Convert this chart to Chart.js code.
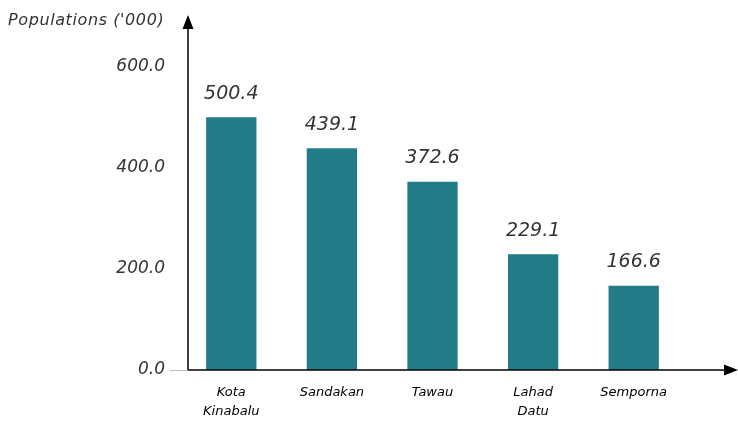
<!DOCTYPE html>
<html>
<head>
<meta charset="utf-8">
<script src="https://cdn.jsdelivr.net/npm/chart.js@4"></script>
<style>
  body { margin: 0; background: #fff; }
  #wrap { width: 738px; height: 422px; }
</style>
</head>
<body>
<div id="wrap"><canvas id="pop" width="738" height="422"></canvas></div>
<script>
const towns = [["Kota", "Kinabalu"], "Sandakan", "Tawau", ["Lahad", "Datu"], "Semporna"]
const population = [500.4, 439.1, 372.6, 229.1, 166.6]
const yTicks = [0, 200, 400, 600]
const axisTitle = "Populations ('000)"

const barColor = "#227c88"
const textColor = "#333333"
const fontFamily = "'DejaVu Sans', sans-serif"

// axis arrows, zero tick, value labels and the y title
const decorations = {
  id: "decorations",
  afterDatasetsDraw(chart) {
    const ctx = chart.ctx
    const area = chart.chartArea
    const x0 = area.left + 7
    const y0 = area.bottom

    ctx.save()
    // small grey tick at zero
    ctx.strokeStyle = "#bbbbbb"
    ctx.lineWidth = 1
    ctx.beginPath()
    ctx.moveTo(x0 - 18, y0 + 0.5)
    ctx.lineTo(x0, y0 + 0.5)
    ctx.stroke()

    ctx.strokeStyle = "#000"
    ctx.fillStyle = "#000"
    ctx.lineWidth = 1.5
    // y axis
    ctx.beginPath()
    ctx.moveTo(x0, y0)
    ctx.lineTo(x0, 26)
    ctx.stroke()
    ctx.beginPath()
    ctx.moveTo(x0, 15)
    ctx.lineTo(x0 - 5.5, 29)
    ctx.lineTo(x0 + 5.5, 29)
    ctx.closePath()
    ctx.fill()
    // x axis
    ctx.beginPath()
    ctx.moveTo(x0, y0)
    ctx.lineTo(chart.width - 10, y0)
    ctx.stroke()
    ctx.beginPath()
    ctx.moveTo(chart.width, y0)
    ctx.lineTo(chart.width - 14, y0 - 5.5)
    ctx.lineTo(chart.width - 14, y0 + 5.5)
    ctx.closePath()
    ctx.fill()

    // value labels
    ctx.fillStyle = textColor
    ctx.font = "oblique 19px " + fontFamily
    ctx.textAlign = "center"
    ctx.textBaseline = "bottom"
    chart.getDatasetMeta(0).data.forEach((bar, i) => {
      ctx.fillText(population[i].toFixed(1), bar.x, bar.y - 14)
    })

    // y title
    ctx.font = "oblique 16px " + fontFamily
    ctx.letterSpacing = "0.6px"
    ctx.textAlign = "left"
    ctx.textBaseline = "middle"
    ctx.fillText(axisTitle, 8, 21)
    ctx.restore()
  }
}

new Chart(document.getElementById("pop"), {
  type: "bar",
  data: {
    labels: towns,
    datasets: [{
      data: population,
      backgroundColor: barColor,
      barPercentage: 0.5,
      categoryPercentage: 1
    }]
  },
  options: {
    responsive: false,
    animation: false,
    layout: { padding: { top: 67, right: 54, left: 0, bottom: 0 } },
    plugins: {
      legend: { display: false },
      tooltip: { enabled: false }
    },
    scales: {
      x: {
        grid: { display: false, drawTicks: false },
        border: { display: false },
        afterFit(scale) { scale.height = 52 },
        ticks: {
          padding: 14,
          color: "#000",
          font: { family: fontFamily, size: 13, style: "italic", lineHeight: 1.4 }
        }
      },
      y: {
        min: 0,
        max: 600,
        grid: { display: false, drawTicks: false },
        border: { display: false },
        afterFit(scale) { scale.width = 181 },
        afterBuildTicks(scale) { scale.ticks = yTicks.map(v => ({ value: v })) },
        ticks: {
          padding: 16,
          color: textColor,
          font: { family: fontFamily, size: 17, style: "italic" },
          callback: v => v.toFixed(1)
        }
      }
    }
  },
  plugins: [decorations]
})
</script>
</body>
</html>
